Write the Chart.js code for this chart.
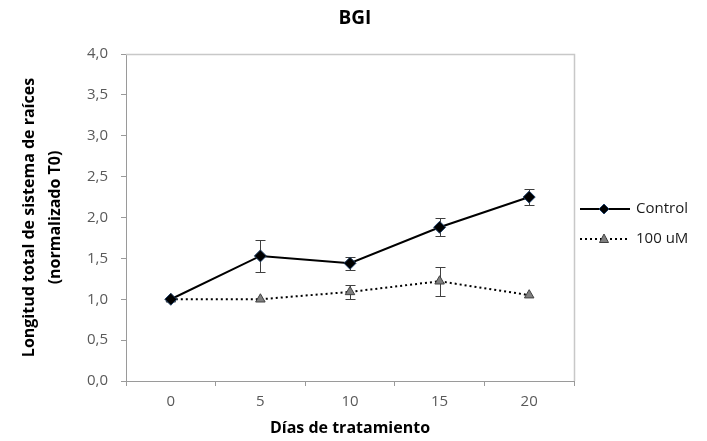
<!DOCTYPE html>
<html>
<head>
  <meta charset="utf-8">
  <title>BGI</title>
  <script src="https://cdn.jsdelivr.net/npm/chart.js@4"></script>
  <style>
    html, body { margin: 0; padding: 0; background: #fff; }
    #wrap { width: 707px; height: 441px; }
  </style>
</head>
<body>
  <div id="wrap"><canvas id="myChart"></canvas></div>
  <script>
    const days = ['0', '5', '10', '15', '20'];
    const control = [1.0, 1.53, 1.44, 1.88, 2.25];
    const controlErr = [0, 0.2, 0.08, 0.11, 0.1];
    const treated = [1.0, 1.0, 1.09, 1.22, 1.05];
    const treatedErr = [0, 0, 0.09, 0.18, 0];
    const seriesNames = ['Control', '100 uM'];
    const chartTitle = 'BGI';
    const errs = [controlErr, treatedErr];

    const FONT = "'Open Sans', sans-serif";
    const tickColor = '#595959';

    // title, frame, error bars and legend
    const extras = {
      id: 'extras',
      beforeDatasetsDraw(chart) {
        const { ctx, chartArea: a, scales } = chart;
        ctx.save();
        ctx.fillStyle = '#000';
        ctx.font = 'bold 19px ' + FONT;
        ctx.textAlign = 'center';
        ctx.textBaseline = 'middle';
        ctx.fillText(chartTitle, 355, 19);

        ctx.strokeStyle = '#c8c8c8';
        ctx.lineWidth = 1.5;
        ctx.beginPath();
        ctx.moveTo(a.left, a.top + 0.5);
        ctx.lineTo(a.right + 0.5, a.top + 0.5);
        ctx.lineTo(a.right + 0.5, a.bottom);
        ctx.stroke();

        ctx.strokeStyle = '#404040';
        ctx.lineWidth = 1;
        chart.data.datasets.forEach((ds, di) => {
          ds.data.forEach((v, i) => {
            const e = errs[di][i];
            if (!e) return;
            const x = Math.round(scales.x.getPixelForValue(i)) + 0.5;
            const y1 = Math.round(scales.y.getPixelForValue(v + e)) + 0.5;
            const y2 = Math.round(scales.y.getPixelForValue(v - e)) + 0.5;
            ctx.beginPath();
            ctx.moveTo(x, y1); ctx.lineTo(x, y2);
            ctx.moveTo(x - 5, y1); ctx.lineTo(x + 5, y1);
            ctx.moveTo(x - 5, y2); ctx.lineTo(x + 5, y2);
            ctx.stroke();
          });
        });
        ctx.restore();
      },
      afterDraw(chart) {
        const { ctx } = chart;
        ctx.save();
        const rows = [209, 239];
        chart.data.datasets.forEach((ds, di) => {
          const y = rows[di];
          ctx.strokeStyle = ds.borderColor;
          ctx.lineWidth = ds.borderWidth;
          ctx.setLineDash(ds.borderDash || []);
          ctx.beginPath();
          ctx.moveTo(580, y); ctx.lineTo(630, y);
          ctx.stroke();
          ctx.setLineDash([]);
          ctx.fillStyle = ds.pointBackgroundColor;
          ctx.strokeStyle = ds.pointBorderColor;
          ctx.lineWidth = 1;
          ctx.beginPath();
          if (ds.pointStyle === 'rectRot') {
            ctx.moveTo(604, y - 5); ctx.lineTo(609, y); ctx.lineTo(604, y + 5); ctx.lineTo(599, y);
          } else {
            ctx.moveTo(604, y - 5); ctx.lineTo(608.5, y + 3.5); ctx.lineTo(599.5, y + 3.5);
          }
          ctx.closePath();
          ctx.fill(); ctx.stroke();
          ctx.fillStyle = '#1a1a1a';
          ctx.font = '15px ' + FONT;
          ctx.textBaseline = 'middle';
          ctx.fillText(ds.label, 636, y);
        });
        ctx.restore();
      }
    };

    new Chart(document.getElementById('myChart'), {
      type: 'line',
      data: {
        labels: days,
        datasets: [{
          label: seriesNames[0],
          data: control,
          borderColor: '#000',
          borderWidth: 2,
          pointStyle: 'rectRot',
          pointRadius: 6,
          pointBackgroundColor: '#000',
          pointBorderColor: '#1f3f66',
          pointBorderWidth: 1,
          tension: 0
        }, {
          label: seriesNames[1],
          data: treated,
          borderColor: '#000',
          borderWidth: 2,
          borderDash: [2, 3],
          pointStyle: 'triangle',
          pointRadius: 5.5,
          pointBackgroundColor: '#808080',
          pointBorderColor: '#404040',
          pointBorderWidth: 1,
          tension: 0
        }]
      },
      options: {
        responsive: true,
        maintainAspectRatio: false,
        animation: false,
        layout: { padding: { left: 0, right: 133, top: 54, bottom: 0 } },
        plugins: {
          legend: { display: false },
          tooltip: { enabled: false },
          title: { display: false }
        },
        scales: {
          x: {
            offset: true,
            afterFit: s => { s.height = 60; },
            border: { color: '#9a9a9a', width: 1 },
            grid: { offset: true, drawOnChartArea: false, drawTicks: true, tickLength: 5, color: '#9a9a9a' },
            ticks: { color: tickColor, padding: 7, font: { family: FONT, size: 15 } },
            title: {
              display: true,
              text: 'Días de tratamiento',
              color: '#000',
              font: { family: FONT, size: 16, weight: 'bold' },
              padding: { top: 0, bottom: 3 }
            }
          },
          y: {
            min: 0, max: 4,
            afterFit: s => { s.width = 126; },
            border: { color: '#9a9a9a', width: 1 },
            grid: { drawOnChartArea: false, drawTicks: true, tickLength: 5, color: '#9a9a9a' },
            ticks: {
              stepSize: 0.5,
              color: tickColor,
              padding: 13,
              font: { family: FONT, size: 15 },
              callback: v => v.toFixed(1).replace('.', ',')
            },
            title: {
              display: true,
              text: ['Longitud total de sistema de raíces', '(normalizado T0)'],
              color: '#000',
              font: { family: FONT, size: 16, weight: 'bold', lineHeight: 1.6 },
              padding: { top: 17, bottom: 0 }
            }
          }
        }
      },
      plugins: [extras]
    });
  </script>
</body>
</html>
